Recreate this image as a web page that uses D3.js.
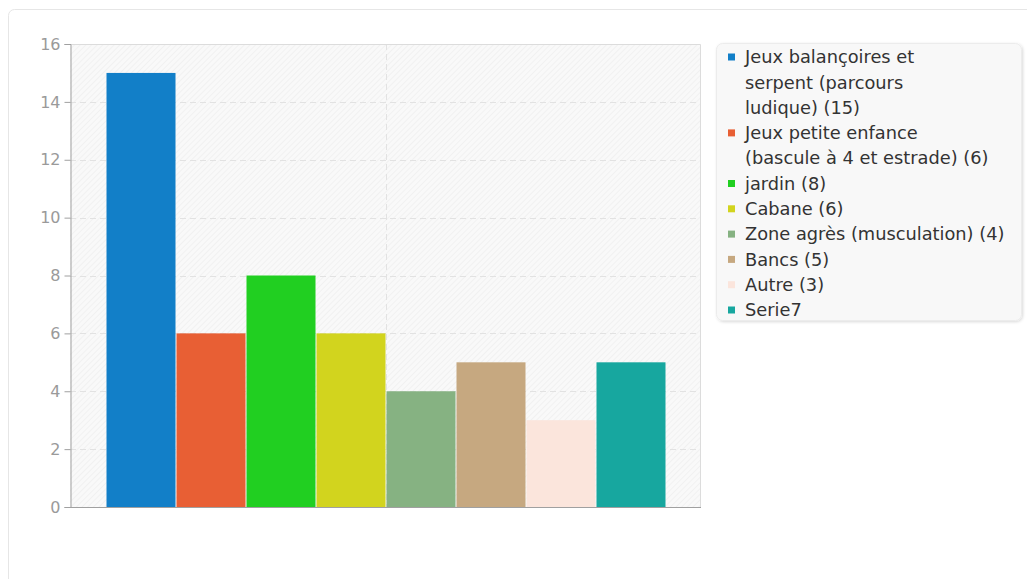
<!DOCTYPE html>
<html lang="fr">
<head>
<meta charset="utf-8">
<title>Histogramme</title>
<script src="https://d3js.org/d3.v7.min.js"></script>
<style>
  body { margin: 0; background: #fff; }
  svg, svg text { font-family: 'DejaVu Sans', Verdana, sans-serif; }
</style>
</head>
<body>
<div id="chart"></div>
<script>
// data
var series = ["Jeux balançoires et serpent (parcours ludique)", "Jeux petite enfance (bascule à 4 et estrade)",
              "jardin", "Cabane", "Zone agrès (musculation)", "Bancs", "Autre", "Serie7"];
var values = [15, 6, 8, 6, 4, 5, 3, 5];
var colors = ["#127fc8", "#e85f34", "#21cf21", "#d2d41e", "#86b282", "#c6a880", "#fbe5dc", "#17a79f"];
var legendLines = [
  ["Jeux balançoires et", "serpent (parcours", "ludique) (15)"],
  ["Jeux petite enfance", "(bascule à 4 et estrade) (6)"],
  ["jardin (8)"],
  ["Cabane (6)"],
  ["Zone agrès (musculation) (4)"],
  ["Bancs (5)"],
  ["Autre (3)"],
  ["Serie7"]
];
var yTicks = [0, 2, 4, 6, 8, 10, 12, 14, 16];

var width = 1027, height = 579;
var margin = {top: 44, right: 326, bottom: 72, left: 70};

var svg = d3.select("#chart").append("svg")
  .attr("width", width).attr("height", height)
  .attr("font-family", "'DejaVu Sans', Verdana, sans-serif");

var defs = svg.append("defs");
var pat = defs.append("pattern").attr("id", "hatch")
  .attr("patternUnits", "userSpaceOnUse").attr("width", 4).attr("height", 4)
  .attr("patternTransform", "rotate(45)");
pat.append("rect").attr("width", 4).attr("height", 4).attr("fill", "#f9f9f9");
pat.append("line").attr("x1", 0).attr("y1", 0).attr("x2", 0).attr("y2", 4)
  .attr("stroke", "#ececec").attr("stroke-width", 1.2);

var shadow = defs.append("filter").attr("id", "shadow")
  .attr("x", "-10%").attr("y", "-10%").attr("width", "130%").attr("height", "130%");
shadow.append("feDropShadow").attr("dx", 1).attr("dy", 1).attr("stdDeviation", 1.5)
  .attr("flood-color", "#000").attr("flood-opacity", 0.15);

// outer frame
svg.append("rect").attr("x", 8.5).attr("y", 9.5).attr("width", 1040).attr("height", 600)
  .attr("rx", 6).attr("fill", "#fff").attr("stroke", "#e6e6e6");

var x0 = d3.scaleBand().domain([""])
  .range([margin.left, width - margin.right]).paddingOuter(0.0634);
var x1 = d3.scaleBand().domain(series).range([0, x0.bandwidth()]);
var y = d3.scaleLinear().domain([0, 16]).range([height - margin.bottom, margin.top]);

var plotW = width - margin.right - margin.left;

// plot background
svg.append("rect").attr("x", margin.left).attr("y", margin.top)
  .attr("width", plotW).attr("height", y(0) - margin.top)
  .attr("fill", "url(#hatch)");

// grid
svg.append("g").selectAll("line").data(yTicks.slice(1, -1)).enter().append("line")
  .attr("x1", margin.left).attr("x2", width - margin.right)
  .attr("y1", d => Math.round(y(d)) + 0.5).attr("y2", d => Math.round(y(d)) + 0.5)
  .attr("stroke", "#e2e2e2").attr("stroke-dasharray", "6,4");
svg.append("line")
  .attr("x1", Math.round(x0("") + x0.bandwidth() / 2) + 0.5)
  .attr("x2", Math.round(x0("") + x0.bandwidth() / 2) + 0.5)
  .attr("y1", margin.top).attr("y2", y(0))
  .attr("stroke", "#e2e2e2").attr("stroke-dasharray", "6,4");

// top and right border
svg.append("path")
  .attr("d", `M${margin.left},${margin.top + 0.5}H${width - margin.right - 0.5}V${y(0)}`)
  .attr("fill", "none").attr("stroke", "#dcdcdc");

// bars
svg.append("g").selectAll("rect").data(values).enter().append("rect")
  .attr("x", (d, i) => x0("") + x1(series[i]) + 1)
  .attr("y", d => y(d))
  .attr("width", x1.bandwidth() - 1)
  .attr("height", d => y(0) - y(d))
  .attr("fill", (d, i) => colors[i]);

// axes
var yAxis = svg.append("g")
  .attr("transform", `translate(${margin.left + 0.5},0)`)
  .call(d3.axisLeft(y).tickValues(yTicks).tickSize(6).tickPadding(4));
yAxis.attr("font-family", null);
yAxis.select(".domain").attr("stroke", "#a0a0a0");
yAxis.selectAll(".tick line").attr("stroke", "#a0a0a0");
yAxis.selectAll("text").attr("fill", "#9a9a9a").style("font-size", "16px");

svg.append("line").attr("x1", margin.left).attr("x2", width - margin.right)
  .attr("y1", y(0) + 0.5).attr("y2", y(0) + 0.5)
  .attr("stroke", "#a0a0a0").attr("stroke-width", 1.2);

// legend
var lg = svg.append("g");
lg.append("rect").attr("x", 716.5).attr("y", 43.5).attr("width", 305).attr("height", 277)
  .attr("rx", 6).attr("fill", "#f8f8f8").attr("stroke", "#ececec")
  .attr("filter", "url(#shadow)");

var lineH = 25.3, line = 0;
legendLines.forEach(function(lines, i) {
  var cy = 57 + line * lineH;
  lg.append("rect").attr("x", 728).attr("y", cy - 3.5).attr("width", 7).attr("height", 7)
    .attr("fill", colors[i]);
  lines.forEach(function(t, j) {
    lg.append("text").attr("x", 745).attr("y", cy + j * lineH)
      .attr("dy", "0.35em").attr("fill", "#333")
      .style("font-size", "17.8px").text(t);
  });
  line += lines.length;
});
</script>
</body>
</html>
